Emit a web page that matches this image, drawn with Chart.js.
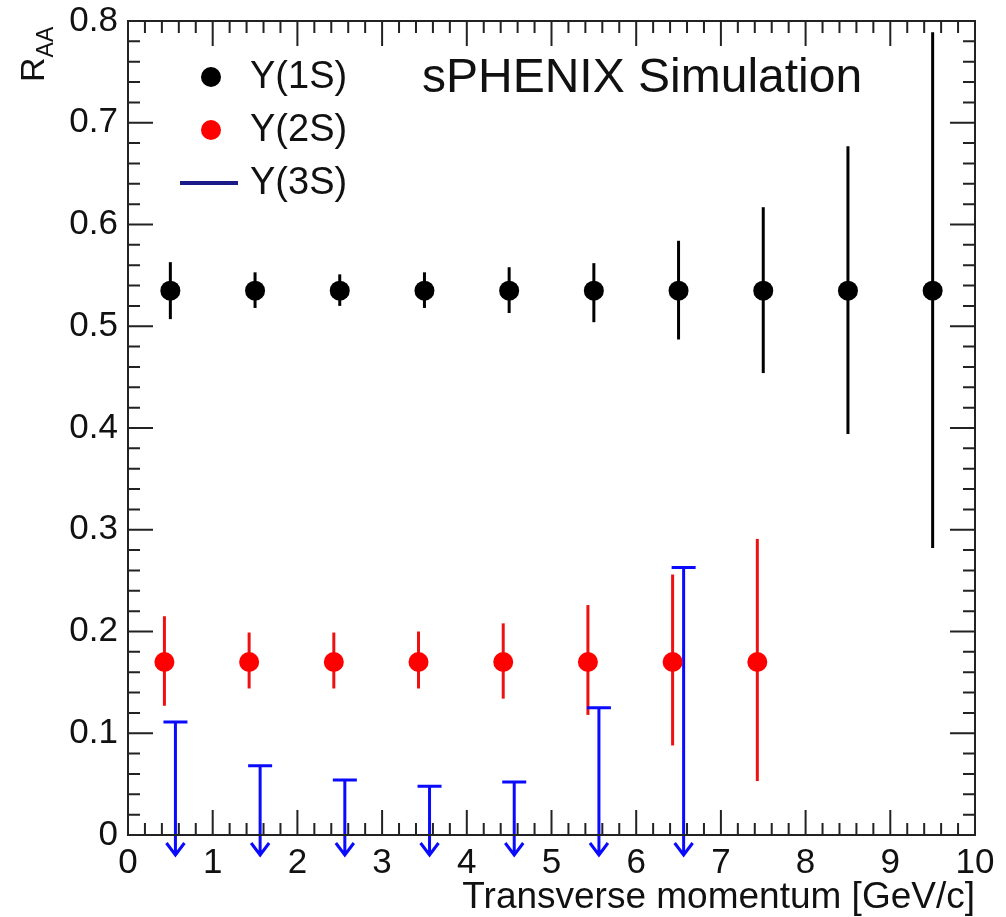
<!DOCTYPE html>
<html>
<head>
<meta charset="utf-8">
<title>Upsilon RAA - sPHENIX Simulation</title>
<script src="https://cdn.jsdelivr.net/npm/chart.js@4.4.1/dist/chart.umd.min.js"></script>
<style>
  html, body { margin: 0; padding: 0; background: #fff; }
  #wrap { width: 1006px; height: 917px; }
</style>
</head>
<body>
<div id="wrap"><canvas id="myChart"></canvas></div>
<script>
// values
const y1sPt = [0.5, 1.5, 2.5, 3.5, 4.5, 5.5, 6.5, 7.5, 8.5, 9.5];
const y1sRaa = [0.535, 0.535, 0.535, 0.535, 0.535, 0.535, 0.535, 0.535, 0.535, 0.535];
const y1sLow = [0.507, 0.518, 0.520, 0.518, 0.513, 0.504, 0.487, 0.454, 0.394, 0.282];
const y1sHigh = [0.563, 0.553, 0.551, 0.553, 0.558, 0.562, 0.584, 0.617, 0.677, 0.789];

const y2sPt = [0.43, 1.43, 2.43, 3.43, 4.43, 5.43, 6.43, 7.43];
const y2sRaa = [0.17, 0.17, 0.17, 0.17, 0.17, 0.17, 0.17, 0.17];
const y2sLow = [0.127, 0.144, 0.144, 0.144, 0.134, 0.118, 0.088, 0.053];
const y2sHigh = [0.215, 0.199, 0.199, 0.200, 0.208, 0.226, 0.256, 0.291];

const y3sPt = [0.56, 1.56, 2.56, 3.56, 4.56, 5.56, 6.56];
const y3sLimit = [0.111, 0.068, 0.054, 0.048, 0.052, 0.125, 0.263];

const xTicks = [0, 1, 2, 3, 4, 5, 6, 7, 8, 9, 10];
const yTicks = [0, 0.1, 0.2, 0.3, 0.4, 0.5, 0.6, 0.7, 0.8];

const FONT = "'Liberation Sans', Arial, Helvetica, sans-serif";

function points(xs, ys) {
  return xs.map((x, i) => ({ x: x, y: ys[i] }));
}

// vertical error bars under the markers, and upper-limit arrows
const errorBars = {
  id: "errorBars",
  beforeDatasetsDraw(chart) {
    const { ctx, scales: { x, y } } = chart;
    ctx.save();
    chart.data.datasets.forEach(ds => {
      ctx.strokeStyle = ds.barColor;
      ctx.lineWidth = 3;
      if (ds.low) {
        ds.data.forEach((p, i) => {
          const px = x.getPixelForValue(p.x);
          ctx.beginPath();
          ctx.moveTo(px, y.getPixelForValue(ds.high[i]));
          ctx.lineTo(px, y.getPixelForValue(ds.low[i]));
          ctx.stroke();
        });
      }
      if (ds.upperLimit) {
        const tip = y.getPixelForValue(0) + 20;
        ds.data.forEach(p => {
          const px = x.getPixelForValue(p.x);
          const py = y.getPixelForValue(p.y);
          ctx.beginPath();
          ctx.moveTo(px - 12, py);
          ctx.lineTo(px + 12, py);
          ctx.moveTo(px, py);
          ctx.lineTo(px, tip);
          ctx.moveTo(px - 9, tip - 12);
          ctx.lineTo(px, tip);
          ctx.lineTo(px + 9, tip - 12);
          ctx.stroke();
        });
      }
    });
    ctx.restore();
  }
};

// ROOT style frame with ticks on all four sides, pointing inward
const frameTicks = {
  id: "frameTicks",
  afterDatasetsDraw(chart) {
    const { ctx, chartArea: a, scales: { x, y } } = chart;
    ctx.save();
    ctx.strokeStyle = "#222";
    ctx.lineWidth = 2;
    ctx.strokeRect(a.left, a.top, a.right - a.left, a.bottom - a.top);
    ctx.beginPath();
    for (let i = 0; i <= 50; i++) {
      const px = x.getPixelForValue(i * 0.2);
      const len = i % 5 === 0 ? 25 : 12;
      ctx.moveTo(px, a.bottom);
      ctx.lineTo(px, a.bottom - len);
      ctx.moveTo(px, a.top);
      ctx.lineTo(px, a.top + len);
    }
    for (let i = 0; i <= 40; i++) {
      const py = y.getPixelForValue(i * 0.02);
      const len = i % 5 === 0 ? 25 : 12;
      ctx.moveTo(a.left, py);
      ctx.lineTo(a.left + len, py);
      ctx.moveTo(a.right, py);
      ctx.lineTo(a.right - len, py);
    }
    ctx.stroke();
    ctx.restore();
  }
};

// legend, sPHENIX label and y axis title
const labels = {
  id: "labels",
  afterDraw(chart) {
    const { ctx } = chart;
    const ds = chart.data.datasets;
    ctx.save();
    ctx.fillStyle = "#000";
    ctx.textBaseline = "middle";
    ctx.textAlign = "left";

    // legend
    ctx.font = "38px " + FONT;
    ctx.fillStyle = ds[0].backgroundColor;
    ctx.beginPath(); ctx.arc(211, 77, 10, 0, Math.PI * 2); ctx.fill();
    ctx.fillStyle = ds[1].backgroundColor;
    ctx.beginPath(); ctx.arc(211, 130, 10, 0, Math.PI * 2); ctx.fill();
    ctx.strokeStyle = "#1a1a8a";
    ctx.lineWidth = 4;
    ctx.beginPath(); ctx.moveTo(180, 183); ctx.lineTo(238, 183); ctx.stroke();
    ctx.fillStyle = "#111";
    ctx.fillText(ds[0].label, 250, 78);
    ctx.fillText(ds[1].label, 250, 131);
    ctx.fillText(ds[2].label, 250, 184);

    // title inside frame
    ctx.font = "48px " + FONT;
    ctx.fillText("sPHENIX Simulation", 422, 79);

    // y axis title R_AA, rotated
    ctx.translate(44, 82);
    ctx.rotate(-Math.PI / 2);
    ctx.textBaseline = "alphabetic";
    ctx.font = "34px " + FONT;
    ctx.fillText("R", 0, 0);
    const w = ctx.measureText("R").width;
    ctx.font = "23px " + FONT;
    ctx.fillText("AA", w, 9);
    ctx.restore();
  }
};

const ctx = document.getElementById("myChart").getContext("2d");

window.myChart = new Chart(ctx, {
  type: "scatter",
  data: {
    datasets: [
      {
        label: "Υ(1S)",
        data: points(y1sPt, y1sRaa),
        low: y1sLow,
        high: y1sHigh,
        backgroundColor: "#000",
        borderColor: "#000",
        barColor: "#000",
        pointRadius: 10,
        pointBorderWidth: 0
      },
      {
        label: "Υ(2S)",
        data: points(y2sPt, y2sRaa),
        low: y2sLow,
        high: y2sHigh,
        backgroundColor: "#ff0000",
        borderColor: "#ff0000",
        barColor: "#ee1111",
        pointRadius: 10,
        pointBorderWidth: 0
      },
      {
        label: "Υ(3S)",
        data: points(y3sPt, y3sLimit),
        upperLimit: true,
        backgroundColor: "#0000ff",
        borderColor: "#0000ff",
        barColor: "#0a0aff",
        pointRadius: 0
      }
    ]
  },
  options: {
    responsive: true,
    maintainAspectRatio: false,
    animation: false,
    layout: { padding: { left: 0, right: 31, top: 21, bottom: 0 } },
    plugins: {
      legend: { display: false },
      tooltip: { enabled: false }
    },
    scales: {
      x: {
        type: "linear",
        min: 0,
        max: 10,
        afterFit(scale) {
          scale.height = 82;
          scale.paddingLeft = 0;
          scale.paddingRight = 0;
        },
        afterBuildTicks(scale) { scale.ticks = xTicks.map(v => ({ value: v })); },
        grid: { display: false, drawTicks: false },
        border: { display: false },
        ticks: {
          color: "#111",
          padding: 7,
          maxRotation: 0,
          font: { family: FONT, size: 35 },
          callback: v => String(v)
        },
        title: {
          display: true,
          text: "Transverse momentum [GeV/c]",
          align: "end",
          color: "#111",
          padding: { top: 0, bottom: 1 },
          font: { family: FONT, size: 37, lineHeight: 1.0 }
        }
      },
      y: {
        type: "linear",
        min: 0,
        max: 0.8,
        afterFit(scale) {
          scale.width = 128;
          scale.paddingTop = 0;
          scale.paddingBottom = 0;
        },
        afterBuildTicks(scale) { scale.ticks = yTicks.map(v => ({ value: v })); },
        grid: { display: false, drawTicks: false },
        border: { display: false },
        ticks: {
          color: "#111",
          padding: 10,
          font: { family: FONT, size: 35 },
          callback: v => (v === 0 ? "0" : v.toFixed(1))
        }
      }
    }
  },
  plugins: [errorBars, frameTicks, labels]
});
</script>
</body>
</html>
